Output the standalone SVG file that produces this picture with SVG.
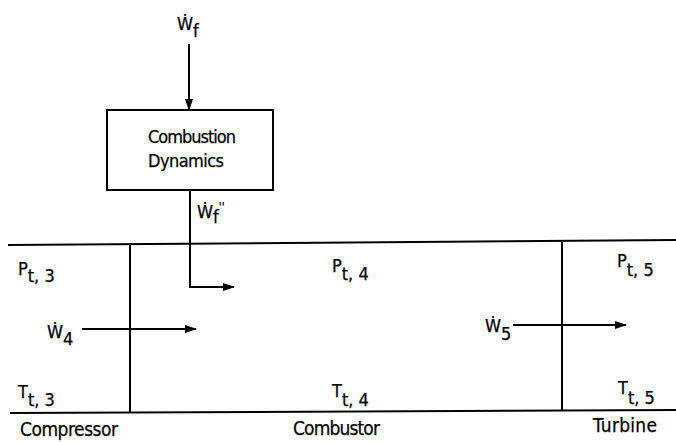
<svg xmlns="http://www.w3.org/2000/svg" width="676" height="442" viewBox="0 0 676 442">
<style>
text{font-family:"Liberation Sans Narrow","DejaVu Sans Condensed","Liberation Sans",sans-serif;font-size:18px;fill:#000;stroke:#000;stroke-width:0.25}
.big{font-size:19px}
.ln{stroke:#000;stroke-width:2;fill:none}
</style>
<defs>
<marker id="ah" markerWidth="12" markerHeight="8" refX="11" refY="4" orient="auto" markerUnits="userSpaceOnUse">
<path d="M0,0 L12,4 L0,8 z" fill="#000"/>
</marker>
</defs>
<rect width="676" height="442" fill="#fff"/>
<g id="duct">
<line class="ln" x1="8" y1="245" x2="676" y2="240"/>
<line class="ln" x1="10" y1="413" x2="676" y2="410"/>
<line class="ln" x1="130" y1="244" x2="130" y2="412"/>
<line class="ln" x1="562" y1="241" x2="562" y2="410"/>
</g>
<g id="combustion-dynamics">
<rect class="ln" x="107" y="110" width="166" height="80"/>
<text x="148" y="143" textLength="88">Combustion</text>
<text x="148" y="167" textLength="76">Dynamics</text>
</g>
<g id="labels">
<text x="177" y="30">Ẇ<tspan dy="7">f</tspan></text>
<text x="197" y="218">Ẇ<tspan dy="5">f</tspan><tspan dy="-12" font-size="12">''</tspan></text>
<text x="18" y="275">P<tspan dy="7">t, 3</tspan></text>
<text x="18" y="398">T<tspan dy="8">t, 3</tspan></text>
<text x="47" y="338">Ẇ<tspan dy="7">4</tspan></text>
<text x="332" y="272">P<tspan dy="8">t, 4</tspan></text>
<text x="332" y="397">T<tspan dy="9">t, 4</tspan></text>
<text x="485" y="332">Ẇ<tspan dy="8">5</tspan></text>
<text x="617" y="267">P<tspan dy="9">t, 5</tspan></text>
<text x="618" y="394">T<tspan dy="10">t, 5</tspan></text>
<text class="big" x="20" y="436" textLength="98">Compressor</text>
<text class="big" x="293" y="435" textLength="87">Combustor</text>
<text class="big" x="593" y="432" textLength="64">Turbine</text>
</g>
<g id="connectors">
<line class="ln" x1="189" y1="44" x2="189" y2="110" marker-end="url(#ah)"/>
<polyline class="ln" points="190,190 190,287 234,287" marker-end="url(#ah)"/>
<line class="ln" x1="82" y1="329" x2="196" y2="329" marker-end="url(#ah)"/>
<line class="ln" x1="513" y1="325" x2="626" y2="325" marker-end="url(#ah)"/>
</g>
</svg>
